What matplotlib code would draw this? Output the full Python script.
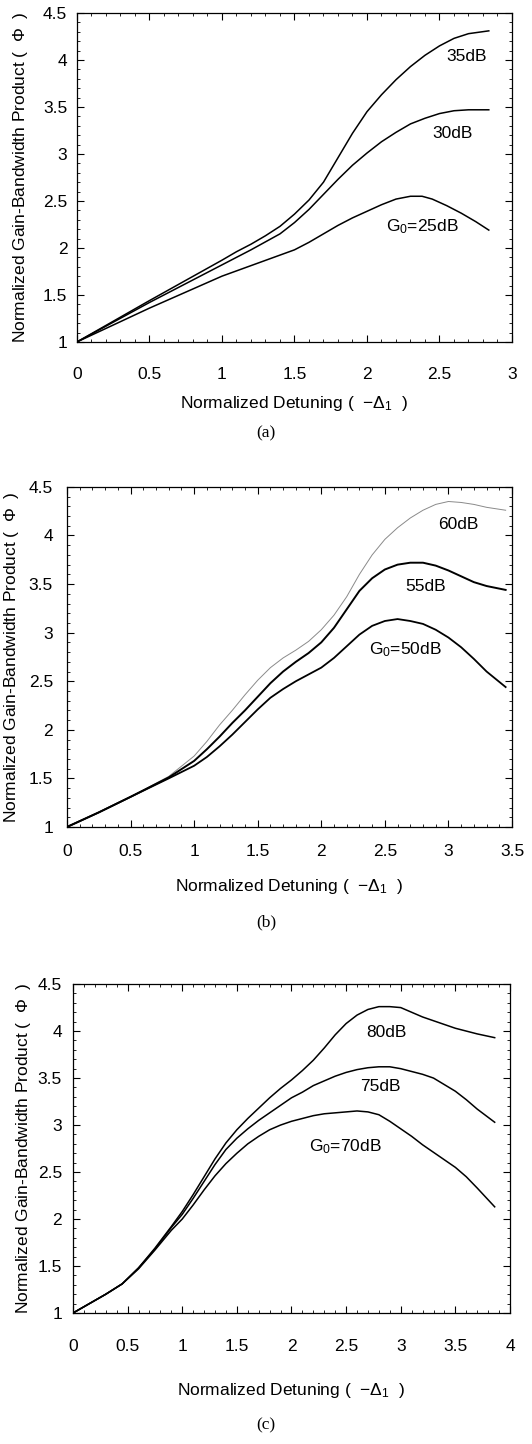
import numpy as np
import matplotlib
matplotlib.use('Agg')
import matplotlib.pyplot as plt
from matplotlib.ticker import MultipleLocator

plt.rcParams['font.family'] = ['Liberation Sans', 'DejaVu Sans']
plt.rcParams['mathtext.fontset'] = 'custom'
plt.rcParams['mathtext.rm'] = 'Liberation Sans'
plt.rcParams['mathtext.it'] = 'Liberation Sans'

# panel (a): G0 = 35, 30, 25 dB
xa_35 = [0, 0.5, 1.0, 1.1, 1.2, 1.3, 1.4, 1.5, 1.6, 1.7, 1.8, 1.9, 2.0, 2.1, 2.2, 2.3, 2.4, 2.5, 2.6, 2.7, 2.84]
ya_35 = [1, 1.44, 1.87, 1.96, 2.04, 2.13, 2.23, 2.36, 2.51, 2.70, 2.96, 3.22, 3.45, 3.63, 3.79, 3.93, 4.05, 4.15, 4.23, 4.28, 4.31]
xa_30 = [0, 0.5, 1.0, 1.2, 1.4, 1.5, 1.6, 1.7, 1.8, 1.9, 2.0, 2.1, 2.2, 2.3, 2.4, 2.5, 2.6, 2.7, 2.84]
ya_30 = [1, 1.42, 1.82, 1.98, 2.15, 2.27, 2.41, 2.57, 2.73, 2.88, 3.01, 3.13, 3.23, 3.32, 3.38, 3.43, 3.46, 3.47, 3.47]
xa_25 = [0, 0.5, 1.0, 1.25, 1.5, 1.6, 1.7, 1.8, 1.9, 2.0, 2.1, 2.2, 2.3, 2.38, 2.45, 2.55, 2.65, 2.75, 2.84]
ya_25 = [1, 1.36, 1.70, 1.84, 1.98, 2.06, 2.15, 2.24, 2.32, 2.39, 2.46, 2.52, 2.55, 2.55, 2.52, 2.45, 2.37, 2.28, 2.19]

# panel (b): G0 = 60, 55, 50 dB
xb_60 = [0, 0.25, 0.5, 0.8, 1.0, 1.1, 1.2, 1.3, 1.4, 1.5, 1.6, 1.7, 1.8, 1.9, 2.0, 2.1, 2.2, 2.3,
         2.4, 2.5, 2.6, 2.7, 2.8, 2.9, 3.0, 3.1, 3.2, 3.3, 3.45]
yb_60 = [1, 1.15, 1.31, 1.52, 1.73, 1.88, 2.05, 2.20, 2.36, 2.51, 2.64, 2.74, 2.82, 2.91, 3.03, 3.18, 3.37, 3.60,
         3.80, 3.96, 4.08, 4.18, 4.26, 4.32, 4.35, 4.34, 4.32, 4.29, 4.26]
xb_55 = [0, 0.25, 0.5, 0.8, 1.0, 1.1, 1.2, 1.3, 1.4, 1.5, 1.6, 1.7, 1.8, 1.9, 2.0, 2.1, 2.2, 2.3,
         2.4, 2.5, 2.6, 2.7, 2.8, 2.9, 3.0, 3.1, 3.2, 3.3, 3.45]
yb_55 = [1, 1.15, 1.31, 1.51, 1.68, 1.80, 1.93, 2.07, 2.20, 2.34, 2.48, 2.60, 2.70, 2.79, 2.90, 3.05, 3.24, 3.43,
         3.56, 3.65, 3.70, 3.72, 3.72, 3.69, 3.64, 3.58, 3.52, 3.48, 3.44]
xb_50 = [0, 0.25, 0.5, 0.8, 1.0, 1.1, 1.2, 1.3, 1.4, 1.5, 1.6, 1.7, 1.8, 1.9, 2.0, 2.1, 2.2, 2.3,
         2.4, 2.5, 2.6, 2.7, 2.8, 2.9, 3.0, 3.1, 3.2, 3.3, 3.45]
yb_50 = [1, 1.15, 1.31, 1.50, 1.63, 1.72, 1.83, 1.95, 2.08, 2.21, 2.33, 2.42, 2.50, 2.57, 2.64, 2.74, 2.86, 2.98,
         3.07, 3.12, 3.14, 3.12, 3.09, 3.03, 2.95, 2.85, 2.73, 2.60, 2.44]

# panel (c): G0 = 80, 75, 70 dB
xc = [0, 0.15, 0.3, 0.45, 0.6, 0.75, 0.9, 1.0, 1.1, 1.2, 1.3, 1.4, 1.5, 1.6, 1.7, 1.8, 1.9, 2.0,
      2.1, 2.2, 2.3, 2.4, 2.5, 2.6, 2.7, 2.8, 2.9, 3.0, 3.1, 3.2, 3.3, 3.4, 3.5, 3.6, 3.7, 3.86]
yc_80 = [1, 1.10, 1.20, 1.31, 1.48, 1.69, 1.92, 2.08, 2.26, 2.45, 2.64, 2.81, 2.95, 3.07, 3.18, 3.29, 3.39, 3.48,
         3.58, 3.69, 3.82, 3.96, 4.08, 4.17, 4.23, 4.26, 4.26, 4.25, 4.20, 4.15, 4.11, 4.07, 4.03, 4.00, 3.97, 3.93]
yc_75 = [1, 1.10, 1.20, 1.31, 1.48, 1.68, 1.91, 2.05, 2.22, 2.40, 2.58, 2.74, 2.86, 2.96, 3.05, 3.13, 3.21, 3.29,
         3.35, 3.42, 3.47, 3.52, 3.56, 3.59, 3.61, 3.62, 3.62, 3.60, 3.57, 3.54, 3.50, 3.43, 3.36, 3.27, 3.17, 3.03]
yc_70 = [1, 1.10, 1.20, 1.31, 1.47, 1.67, 1.88, 2.00, 2.15, 2.31, 2.46, 2.59, 2.70, 2.80, 2.88, 2.95, 3.00, 3.04,
         3.07, 3.10, 3.12, 3.13, 3.14, 3.15, 3.14, 3.11, 3.04, 2.96, 2.88, 2.79, 2.71, 2.63, 2.55, 2.45, 2.33, 2.13]

xlims = [3, 3.5, 4]
captions = ['(a)', '(b)', '(c)']

fig = plt.figure(figsize=(5.32, 14.44), dpi=100)
axa = fig.add_axes([0.1447, 0.7632, 0.8177, 0.2278])
axb = fig.add_axes([0.1259, 0.4273, 0.8365, 0.2355])
axc = fig.add_axes([0.1372, 0.0907, 0.8214, 0.2278])

fs = 12.5
axa.plot(xa_35, ya_35, color='black', lw=1.1)
axa.plot(xa_30, ya_30, color='black', lw=1.1)
axa.plot(xa_25, ya_25, color='black', lw=1.1)
axa.text(2.69, 4.04, '35dB', ha='center', va='center', fontsize=fs)
axa.text(2.59, 3.22, '30dB', ha='center', va='center', fontsize=fs)
axa.text(2.38, 2.23, 'G$_0$=25dB', ha='center', va='center', fontsize=fs)

axb.plot(xb_60, yb_60, color='#8a8a8a', lw=0.7)
axb.plot(xb_55, yb_55, color='black', lw=1.4)
axb.plot(xb_50, yb_50, color='black', lw=1.3)
axb.text(3.08, 4.11, '60dB', ha='center', va='center', fontsize=fs)
axb.text(2.82, 3.47, '55dB', ha='center', va='center', fontsize=fs)
axb.text(2.66, 2.82, 'G$_0$=50dB', ha='center', va='center', fontsize=fs)

axc.plot(xc, yc_80, color='black', lw=1.1)
axc.plot(xc, yc_75, color='black', lw=1.1)
axc.plot(xc, yc_70, color='black', lw=1.1)
axc.text(2.87, 3.99, '80dB', ha='center', va='center', fontsize=fs)
axc.text(2.81, 3.41, '75dB', ha='center', va='center', fontsize=fs)
axc.text(2.49, 2.77, 'G$_0$=70dB', ha='center', va='center', fontsize=fs)

xpads = [18, 12, 19]
ypads = [7, 10, 8]
xlab_y = [-0.158, -0.147, -0.207]
ylab_x = [-0.108, -0.103, -0.092]
cap_y = [433, 922, 1425]
for ax, xm, cap, xp, yp, lx, ly, cy in zip([axa, axb, axc], xlims, captions,
                                           xpads, ypads, xlab_y, ylab_x, cap_y):
    ax.set_xlim(0, xm)
    ax.set_ylim(1, 4.5)
    ax.xaxis.set_major_locator(MultipleLocator(0.5))
    ax.xaxis.set_minor_locator(MultipleLocator(0.1))
    ax.yaxis.set_major_locator(MultipleLocator(0.5))
    ax.yaxis.set_minor_locator(MultipleLocator(0.1))
    ax.xaxis.set_major_formatter(plt.FuncFormatter(lambda v, p: '%g' % v))
    ax.yaxis.set_major_formatter(plt.FuncFormatter(lambda v, p: '%g' % v))
    ax.tick_params(which='both', direction='in', top=True, right=True, labelsize=fs)
    ax.tick_params(which='major', length=5, width=0.8)
    ax.tick_params(which='minor', length=2.5, width=0.6)
    ax.tick_params(axis='x', which='major', pad=xp)
    ax.tick_params(axis='y', which='major', pad=yp)
    for s in ax.spines.values():
        s.set_linewidth(0.9)
    ax.set_xlabel('Normalized Detuning (  $-\\Delta_1$  )', fontsize=fs)
    ax.set_ylabel('Normalized Gain-Bandwidth Product (  $\\Phi$  )', fontsize=fs)
    ax.xaxis.set_label_coords(0.5, lx)
    ax.yaxis.set_label_coords(ly, 0.5)
    fig.text(0.5, 1 - cy / 1444, cap, ha='center', va='center', fontsize=12.5,
             family='Liberation Serif')

fig.savefig('out.png', dpi=100)
